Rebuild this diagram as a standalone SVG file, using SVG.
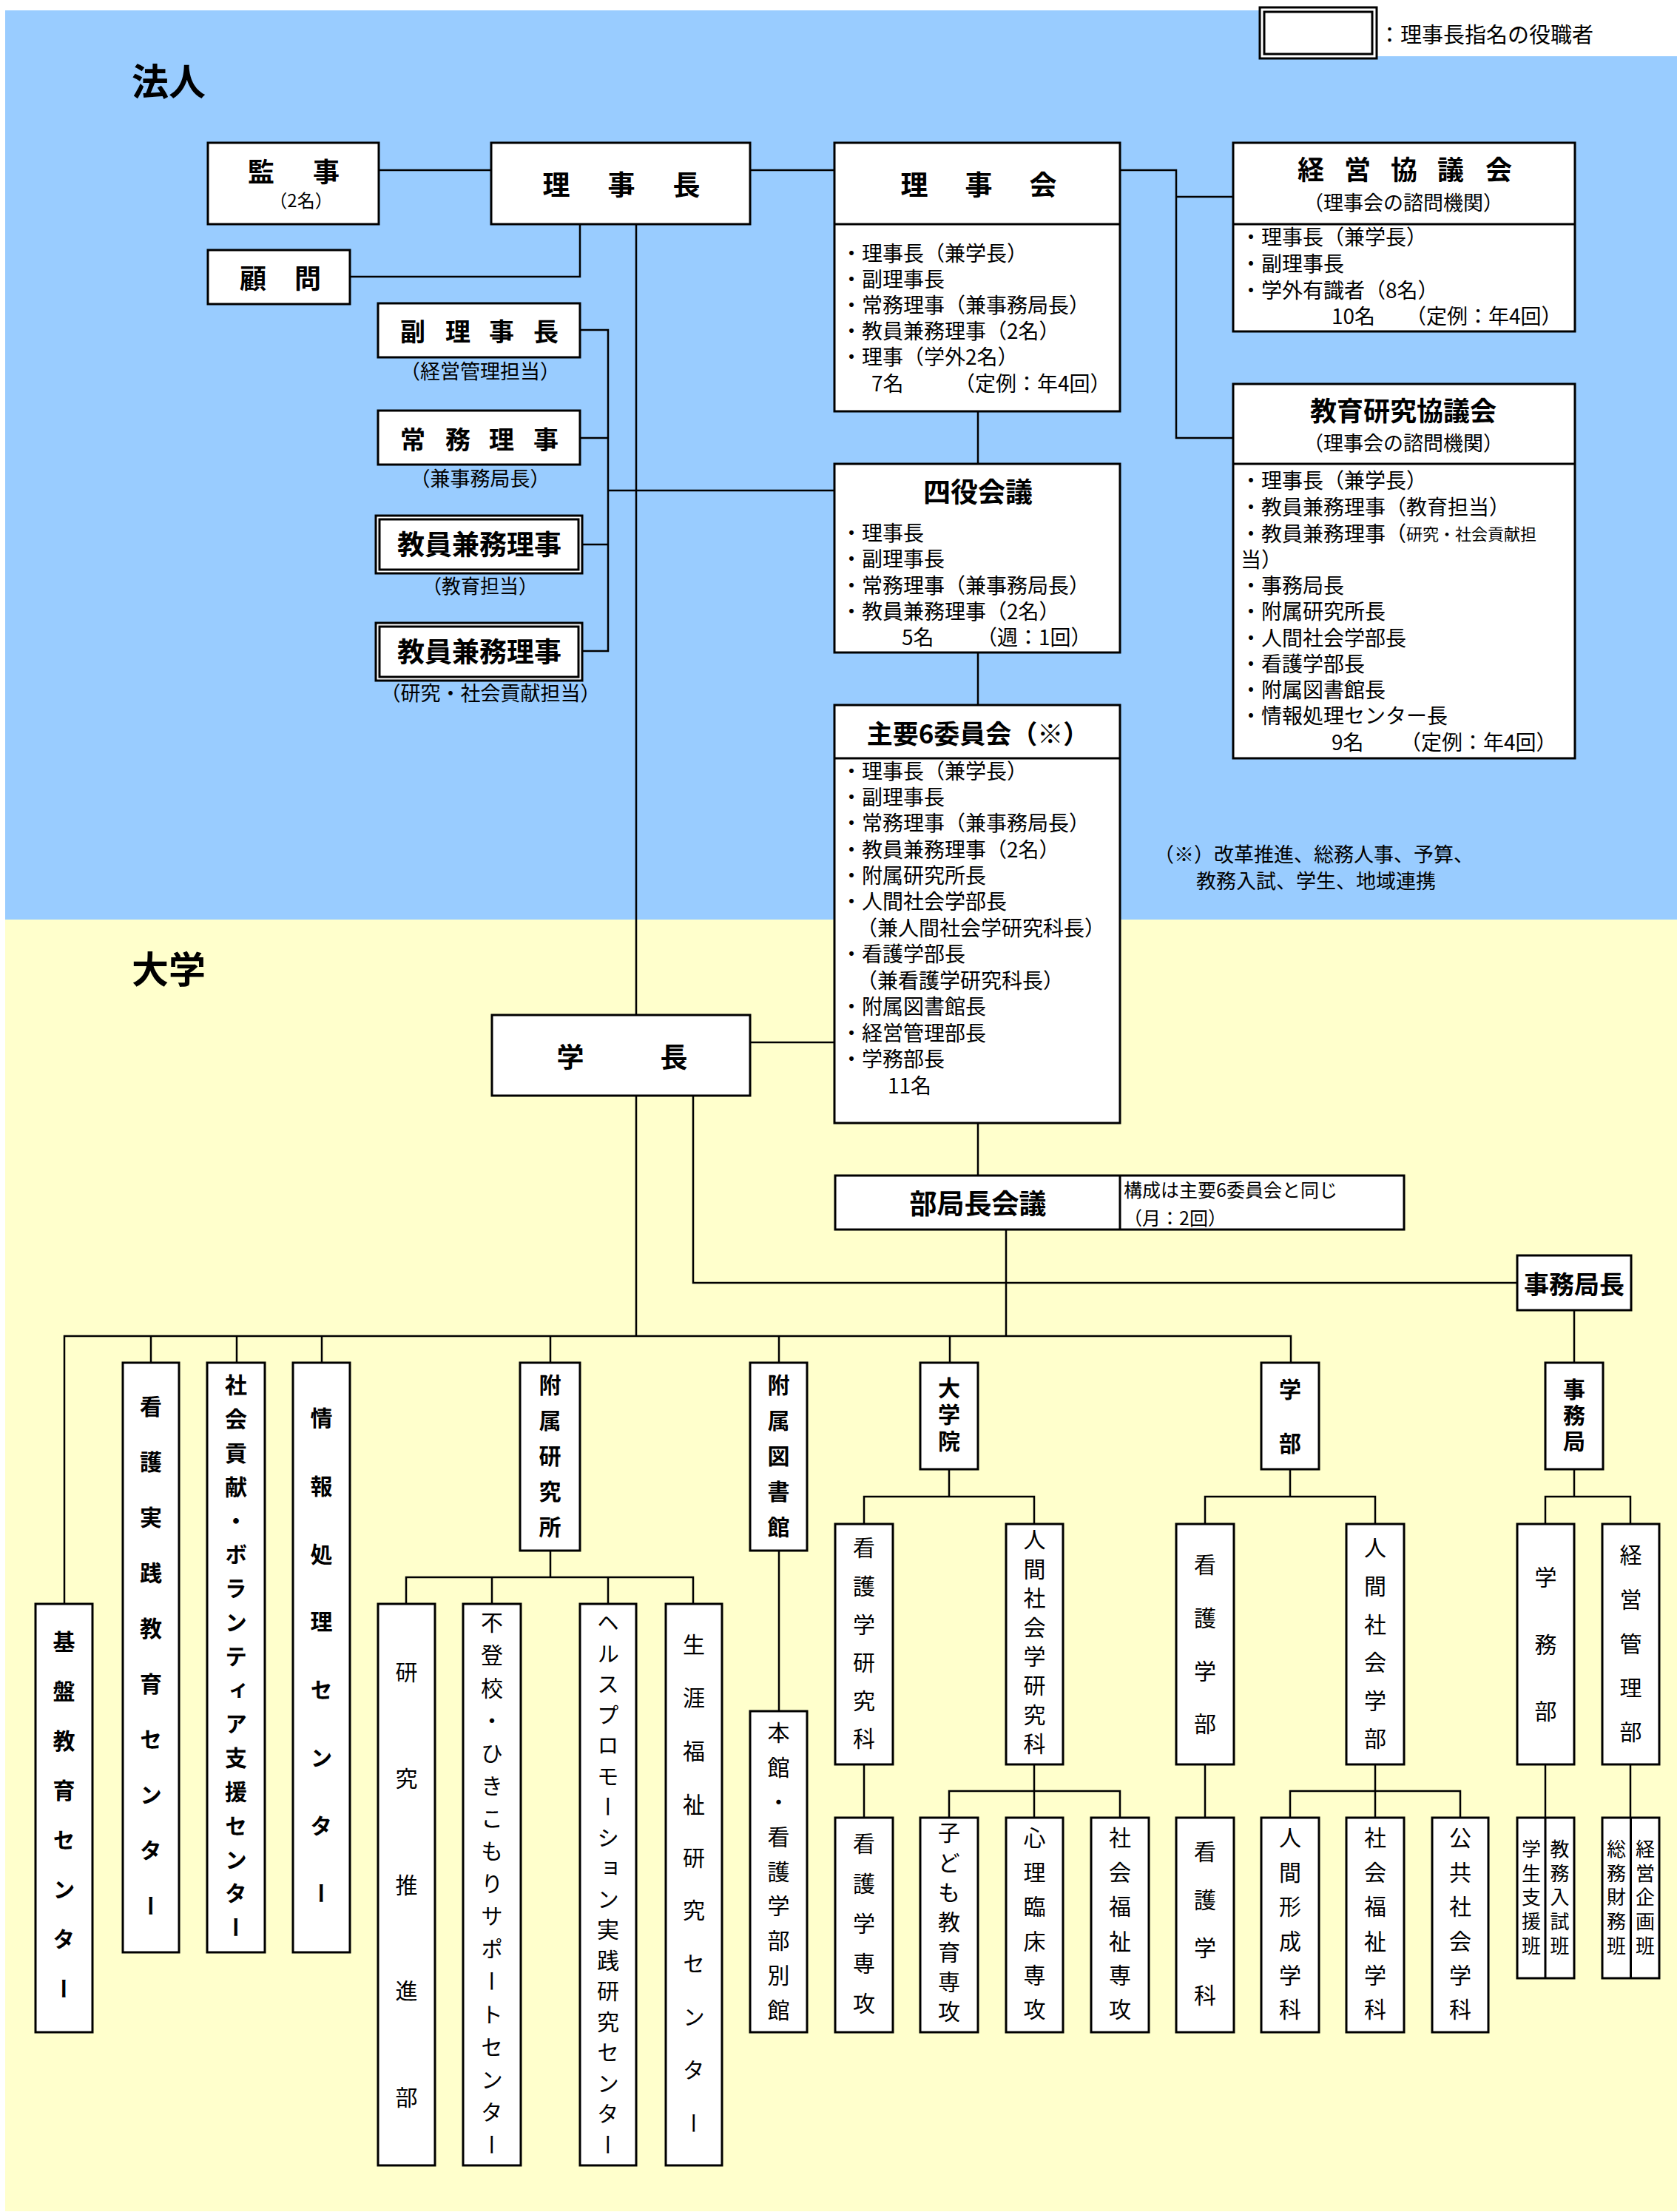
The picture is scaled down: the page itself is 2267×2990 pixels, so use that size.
<svg xmlns="http://www.w3.org/2000/svg" width="2267" height="2990" viewBox="0 0 2267 2990">
<style>
.bg1{fill:#99CCFF}
.bg2{fill:#FFFFCC}
.box{fill:#fff;stroke:#000;stroke-width:3}
.ln{fill:none;stroke:#000;stroke-width:2.5}
.t{font-family:"Noto Sans CJK JP","Noto Sans CJK SC",sans-serif;dominant-baseline:central;fill:#000}
.b{font-weight:bold}
.m{text-anchor:middle}
.v{writing-mode:vertical-rl;font-size:30px}
.s28{font-size:28px}
.s27{font-size:27px}
.s37{font-size:37px}
</style>
<rect x="0" y="0" width="2267" height="2990" fill="#fff"/>
<rect class="bg1" x="7" y="14" width="2260" height="1229"/>
<rect class="bg2" x="7" y="1243" width="2260" height="1746"/>
<rect x="1703" y="0" width="564" height="76" fill="#fff"/>

<text class="t b" x="178" y="107" font-size="50">法人</text>
<text class="t b" x="178" y="1307" font-size="50">大学</text>

<g id="legend">
<rect class="box" x="1703" y="10" width="158" height="69"/>
<rect class="box" x="1709" y="16" width="146" height="57"/>
<text class="t" x="1864" y="45" font-size="29">：理事長指名の役職者</text>
</g>

<g id="connectors">
<path class="ln" d="M512,230 H664 M1014,230 H1128 M1514,230 H1590 V592 H1667 M1590,266 H1667 M784,303 V374 H473 M860,303 V1372 M784,446 H822 V880 H787 M784,592 H822 M787,736 H822 M822,663 H1128 M1322,556 V627 M1322,882 V953 M1014,1409 H1128 M1322,1518 V1589 M860,1481 V1806 M937,1481 V1734 H2051 M1360,1662 V1806 M87,2168 V1806 H1745 V1842 M204,1806 V1842 M320,1806 V1842 M435,1806 V1842 M744,1806 V1842 M1053,1806 V1842 M1284,1806 V1842 M2128,1771 V1842 M744,2096 V2132 M549,2168 V2132 H937 V2168 M665,2132 V2168 M822,2132 V2168 M1053,2096 V2313 M1283,1986 V2023 M1168,2060 V2023 H1398 V2060 M1168,2385 V2457 M1398,2385 V2421 M1283,2457 V2421 H1514 V2457 M1398,2421 V2457 M1744,1986 V2023 M1629,2060 V2023 H1859 V2060 M1629,2385 V2457 M1859,2385 V2457 M1744,2457 V2421 H1974 V2457 M2128,1986 V2023 M2089,2060 V2023 H2204 V2060 M2089,2385 V2457 M2204,2385 V2457"/>
</g>

<g id="kanji">
<rect class="box" x="281" y="193" width="231" height="110"/>
<text class="t b m" x="353 441" y="230" font-size="36">監事</text>
<text class="t m" x="407" y="269" font-size="24">（2名）</text>
</g>
<g id="rijicho">
<rect class="box" x="664" y="193" width="350" height="110"/>
<text class="t b m s37" x="752 840 928" y="248">理事長</text>
</g>
<g id="komon">
<rect class="box" x="281" y="338" width="192" height="73"/>
<text class="t b m" x="342 416" y="374" font-size="36">顧問</text>
</g>
<g id="fukurijicho">
<rect class="box" x="511" y="410" width="273" height="73"/>
<text class="t b m" x="558 619 678 738" y="446" font-size="34">副理事長</text>
<text class="t m s27" x="649" y="500">（経営管理担当）</text>
</g>
<g id="jomuriji">
<rect class="box" x="511" y="555" width="273" height="73"/>
<text class="t b m" x="558 619 678 738" y="592" font-size="34">常務理事</text>
<text class="t m s27" x="649" y="645">（兼事務局長）</text>
</g>
<g id="kyoin1">
<rect class="box" x="508" y="697" width="279" height="78"/>
<rect class="box" x="513" y="702" width="269" height="68"/>
<text class="t b m s37" x="648" y="734">教員兼務理事</text>
<text class="t m" x="649" y="790" font-size="26">（教育担当）</text>
</g>
<g id="kyoin2">
<rect class="box" x="508" y="842" width="279" height="78"/>
<rect class="box" x="513" y="847" width="269" height="68"/>
<text class="t b m s37" x="648" y="879">教員兼務理事</text>
<text class="t m s27" x="663" y="935">（研究・社会貢献担当）</text>
</g>
<g id="rijikai">
<rect class="box" x="1128" y="193" width="386" height="363"/>
<path class="ln" d="M1128,303 H1514" style="stroke-width:3"/>
<text class="t b m s37" x="1236 1323 1410" y="248">理事会</text>
<text class="t s28" x="1137" y="341">・理事長（兼学長）</text>
<text class="t s28" x="1137" y="376">・副理事長</text>
<text class="t s28" x="1137" y="411">・常務理事（兼事務局長）</text>
<text class="t s28" x="1137" y="446">・教員兼務理事（2名）</text>
<text class="t s28" x="1137" y="481">・理事（学外2名）</text>
<text class="t s28" x="1178" y="517">7名</text>
<text class="t s28" x="1290" y="517">（定例：年4回）</text>
</g>
<g id="keiei">
<rect class="box" x="1667" y="193" width="462" height="255"/>
<path class="ln" d="M1667,303 H2129" style="stroke-width:3"/>
<text class="t b m" x="1772 1835 1898 1961 2026" y="227" font-size="36">経営協議会</text>
<text class="t m s27" x="1897" y="272">（理事会の諮問機関）</text>
<text class="t s28" x="1677" y="319">・理事長（兼学長）</text>
<text class="t s28" x="1677" y="355">・副理事長</text>
<text class="t s28" x="1677" y="391">・学外有識者（8名）</text>
<text class="t s28" x="1800" y="426">10名</text>
<text class="t s28" x="1900" y="426">（定例：年4回）</text>
</g>
<g id="kyoiku">
<rect class="box" x="1667" y="519" width="462" height="506"/>
<path class="ln" d="M1667,627 H2129" style="stroke-width:3"/>
<text class="t b m" x="1897" y="553" font-size="36">教育研究協議会</text>
<text class="t m s27" x="1897" y="597">（理事会の諮問機関）</text>
<text class="t s28" x="1677" y="648">・理事長（兼学長）</text>
<text class="t s28" x="1677" y="684">・教員兼務理事（教育担当）</text>
<text class="t s28" x="1677" y="720">・教員兼務理事（<tspan font-size="22">研究・社会貢献担</tspan></text>
<text class="t s28" x="1677" y="755">当）</text>
<text class="t s28" x="1677" y="790">・事務局長</text>
<text class="t s28" x="1677" y="825">・附属研究所長</text>
<text class="t s28" x="1677" y="861">・人間社会学部長</text>
<text class="t s28" x="1677" y="896">・看護学部長</text>
<text class="t s28" x="1677" y="931">・附属図書館長</text>
<text class="t s28" x="1677" y="966">・情報処理センター長</text>
<text class="t s28" x="1800" y="1002">9名</text>
<text class="t s28" x="1893" y="1002">（定例：年4回）</text>
</g>
<g id="yonyaku">
<rect class="box" x="1128" y="627" width="386" height="255"/>
<text class="t b m s37" x="1322" y="663">四役会議</text>
<text class="t s28" x="1137" y="719">・理事長</text>
<text class="t s28" x="1137" y="754">・副理事長</text>
<text class="t s28" x="1137" y="790">・常務理事（兼事務局長）</text>
<text class="t s28" x="1137" y="825">・教員兼務理事（2名）</text>
<text class="t s28" x="1219" y="860">5名</text>
<text class="t s28" x="1320" y="860">（週：1回）</text>
</g>
<g id="shuyo6">
<rect class="box" x="1128" y="953" width="386" height="565"/>
<path class="ln" d="M1128,1025 H1514" style="stroke-width:3"/>
<text class="t b m" x="1322" y="989" font-size="35">主要6委員会（※）</text>
<text class="t s28" x="1137" y="1041">・理事長（兼学長）</text>
<text class="t s28" x="1137" y="1076">・副理事長</text>
<text class="t s28" x="1137" y="1111">・常務理事（兼事務局長）</text>
<text class="t s28" x="1137" y="1147">・教員兼務理事（2名）</text>
<text class="t s28" x="1137" y="1182">・附属研究所長</text>
<text class="t s28" x="1137" y="1217">・人間社会学部長</text>
<text class="t s28" x="1158" y="1253">（兼人間社会学研究科長）</text>
<text class="t s28" x="1137" y="1288">・看護学部長</text>
<text class="t s28" x="1158" y="1324">（兼看護学研究科長）</text>
<text class="t s28" x="1137" y="1359">・附属図書館長</text>
<text class="t s28" x="1137" y="1395">・経営管理部長</text>
<text class="t s28" x="1137" y="1430">・学務部長</text>
<text class="t s28" x="1200" y="1466">11名</text>
</g>
<text class="t" x="1560" y="1153" font-size="27">（※）改革推進、総務人事、予算、</text>
<text class="t" x="1617" y="1189" font-size="27">教務入試、学生、地域連携</text>

<g id="gakucho">
<rect class="box" x="665" y="1372" width="349" height="109"/>
<text class="t b m s37" x="771 911" y="1427">学長</text>
</g>
<g id="bukyokucho">
<rect class="box" x="1129" y="1589" width="769" height="73"/>
<path class="ln" d="M1514,1589 V1662" style="stroke-width:3"/>
<text class="t b m s37" x="1322" y="1625">部局長会議</text>
<text class="t" x="1519" y="1607" font-size="25">構成は主要6委員会と同じ</text>
<text class="t" x="1519" y="1645" font-size="25">（月：2回）</text>
</g>
<g id="jimukyokucho">
<rect class="box" x="2051" y="1697" width="154" height="74"/>
<text class="t b m" x="2128" y="1734" font-size="34">事務局長</text>
</g>

<g id="kiban"><rect class="box" x="48" y="2168" width="77" height="579"/><text class="t b v" x="86.5" y="2204" letter-spacing="37">基盤教育センター</text></g>
<g id="kango-jissen"><rect class="box" x="166" y="1842" width="76" height="797"/><text class="t b v" x="204" y="1886" letter-spacing="45">看護実践教育センター</text></g>
<g id="shakai-koken"><rect class="box" x="280" y="1842" width="78" height="797"/><text class="t b v" x="319" y="1857" letter-spacing="15.8">社会貢献・ボランティア支援センター</text></g>
<g id="joho"><rect class="box" x="396" y="1842" width="77" height="797"/><text class="t b v" x="434.5" y="1902" letter-spacing="61.7">情報処理センター</text></g>
<g id="fuzoku-ken"><rect class="box" x="703" y="1842" width="81" height="254"/><text class="t b v" x="743.5" y="1857" letter-spacing="17.8">附属研究所</text></g>
<g id="kenkyu-suishin"><rect class="box" x="511" y="2168" width="77" height="759"/><text class="t v" x="549.5" y="2245" letter-spacing="113.7">研究推進部</text></g>
<g id="futoko"><rect class="box" x="626" y="2168" width="78" height="759"/><text class="t v" x="665" y="2178" letter-spacing="14.1">不登校・ひきこもりサポートセンター</text></g>
<g id="health"><rect class="box" x="784" y="2168" width="76" height="759"/><text class="t v" x="822" y="2178" letter-spacing="11.5">ヘルスプロモーション実践研究センター</text></g>
<g id="shogai"><rect class="box" x="900" y="2168" width="76" height="759"/><text class="t v" x="938" y="2208" letter-spacing="41.8">生涯福祉研究センター</text></g>
<g id="toshokan"><rect class="box" x="1014" y="1842" width="77" height="254"/><text class="t b v" x="1052.5" y="1857" letter-spacing="18">附属図書館</text></g>
<g id="honkan"><rect class="box" x="1014" y="2313" width="77" height="434"/><text class="t v" x="1052.5" y="2327" letter-spacing="16.8">本館・看護学部別館</text></g>
<g id="daigakuin"><rect class="box" x="1244" y="1842" width="78" height="144"/><text class="t b v" x="1283" y="1861" letter-spacing="6">大学院</text></g>
<g id="gakubu"><rect class="box" x="1705" y="1842" width="78" height="144"/><text class="t b v" x="1744" y="1863" letter-spacing="43">学部</text></g>
<g id="jimukyoku"><rect class="box" x="2089" y="1842" width="78" height="144"/><text class="t b v" x="2128" y="1863" letter-spacing="5">事務局</text></g>
<g id="kango-kenkyuka"><rect class="box" x="1129" y="2060" width="78" height="325"/><text class="t v" x="1168" y="2077" letter-spacing="21.6">看護学研究科</text></g>
<g id="ningen-kenkyuka"><rect class="box" x="1360" y="2060" width="77" height="325"/><text class="t v" x="1398.5" y="2066" letter-spacing="9.4">人間社会学研究科</text></g>
<g id="kango-senko"><rect class="box" x="1129" y="2457" width="78" height="290"/><text class="t v" x="1168" y="2477" letter-spacing="24">看護学専攻</text></g>
<g id="kodomo"><rect class="box" x="1244" y="2457" width="78" height="290"/><text class="t v" x="1283" y="2462" letter-spacing="10.3">子ども教育専攻</text></g>
<g id="shinri"><rect class="box" x="1360" y="2457" width="77" height="290"/><text class="t v" x="1398.5" y="2469" letter-spacing="16.4">心理臨床専攻</text></g>
<g id="fukushi-senko"><rect class="box" x="1475" y="2457" width="78" height="290"/><text class="t v" x="1514" y="2469" letter-spacing="16.4">社会福祉専攻</text></g>
<g id="kango-gakubu"><rect class="box" x="1590" y="2060" width="78" height="325"/><text class="t v" x="1629" y="2100" letter-spacing="41.7">看護学部</text></g>
<g id="ningen-gakubu"><rect class="box" x="1820" y="2060" width="78" height="325"/><text class="t v" x="1859" y="2077" letter-spacing="21.6">人間社会学部</text></g>
<g id="kango-gakka"><rect class="box" x="1590" y="2457" width="78" height="290"/><text class="t v" x="1629" y="2488" letter-spacing="34.7">看護学科</text></g>
<g id="ningen-keisei"><rect class="box" x="1705" y="2457" width="78" height="290"/><text class="t v" x="1744" y="2469" letter-spacing="16.4">人間形成学科</text></g>
<g id="fukushi-gakka"><rect class="box" x="1820" y="2457" width="78" height="290"/><text class="t v" x="1859" y="2469" letter-spacing="16.4">社会福祉学科</text></g>
<g id="kokyo"><rect class="box" x="1936" y="2457" width="76" height="290"/><text class="t v" x="1974" y="2469" letter-spacing="16.4">公共社会学科</text></g>
<g id="gakumu"><rect class="box" x="2051" y="2060" width="77" height="325"/><text class="t v" x="2089.5" y="2117" letter-spacing="60.5">学務部</text></g>
<g id="keiei-kanri"><rect class="box" x="2166" y="2060" width="77" height="325"/><text class="t v" x="2204.5" y="2087" letter-spacing="29.7">経営管理部</text></g>
<g id="gakumu-han">
<rect class="box" x="2051" y="2457" width="77" height="217"/>
<path class="ln" d="M2089,2457 V2674" style="stroke-width:3"/>
<text class="t v" x="2070" y="2486" style="font-size:26px" letter-spacing="6.7">学生支援班</text>
<text class="t v" x="2108.5" y="2486" style="font-size:26px" letter-spacing="6.7">教務入試班</text>
</g>
<g id="keiei-han">
<rect class="box" x="2166" y="2457" width="77" height="217"/>
<path class="ln" d="M2204.5,2457 V2674" style="stroke-width:3"/>
<text class="t v" x="2185" y="2486" style="font-size:26px" letter-spacing="6.7">総務財務班</text>
<text class="t v" x="2224" y="2486" style="font-size:26px" letter-spacing="6.7">経営企画班</text>
</g>
</svg>
